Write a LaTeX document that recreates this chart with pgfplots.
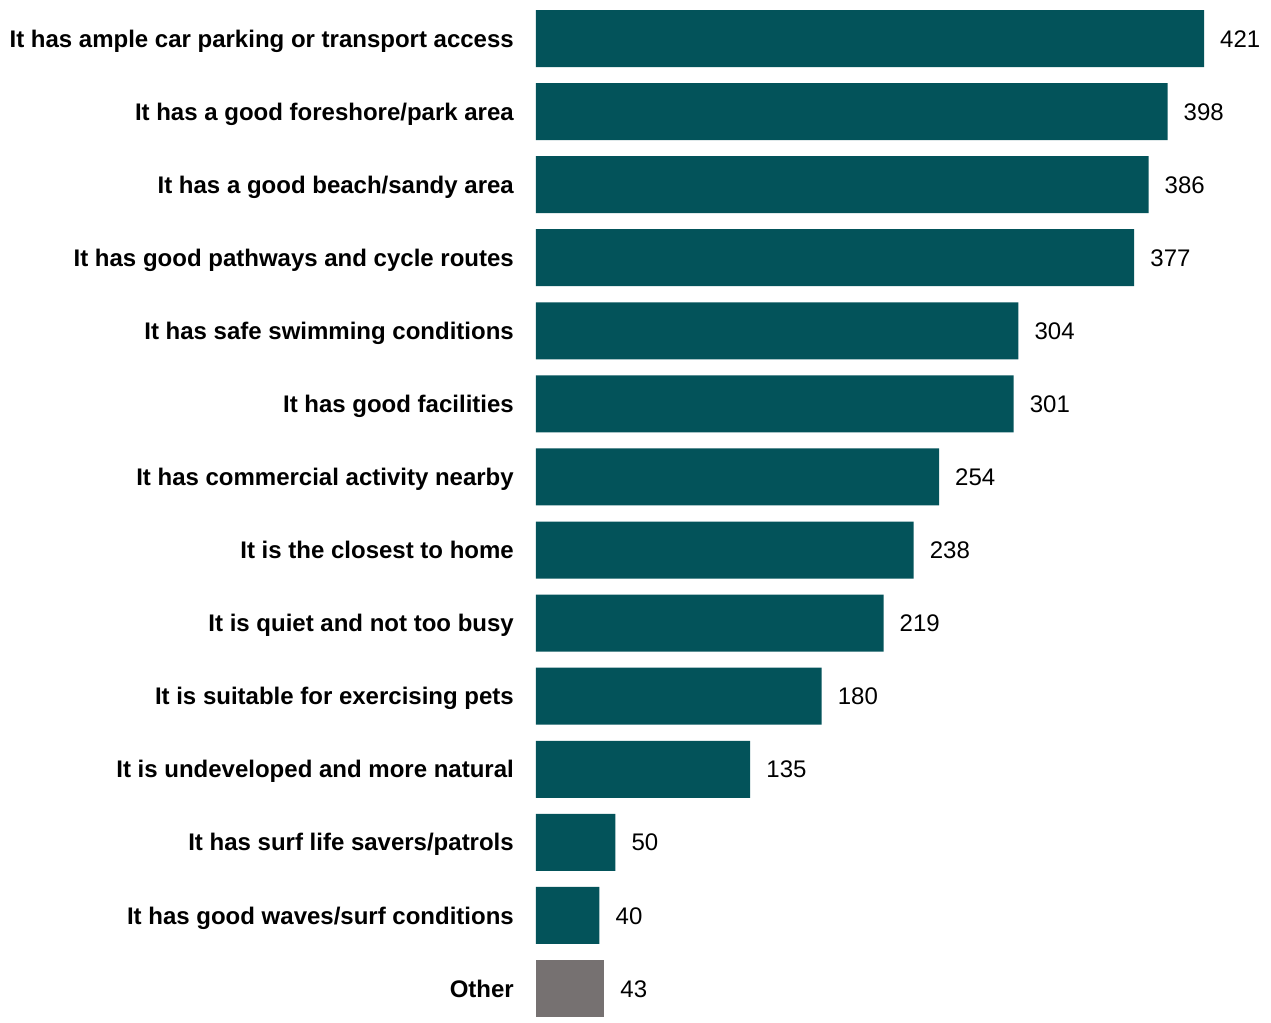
\documentclass[border=0pt]{standalone}
\usepackage{pgfplots}
\pgfplotsset{compat=1.18}
\usepackage{fontspec}
\setmainfont{Liberation Sans}
\definecolor{barteal}{HTML}{03535A}
\definecolor{bargray}{HTML}{767171}
\begin{document}
\begin{tikzpicture}
\begin{axis}[
  scale only axis,
  width=735bp, height=1023bp,
  xbar, bar width=57bp, bar shift=0pt,
  xmin=0, xmax=463.2,
  ymin=-0.527, ymax=13.472,
  y dir=reverse,
  axis lines=left,
  x axis line style={draw=none},
  y axis line style={draw=none},
  xtick=\empty,
  ytick={0,...,13},
  major tick length=0pt,
  yticklabels={
    It has ample car parking or transport access,
    It has a good foreshore/park area,
    It has a good beach/sandy area,
    It has good pathways and cycle routes,
    It has safe swimming conditions,
    It has good facilities,
    It has commercial activity nearby,
    It is the closest to home,
    It is quiet and not too busy,
    It is suitable for exercising pets,
    It is undeveloped and more natural,
    It has surf life savers/patrols,
    It has good waves/surf conditions,
    Other},
  yticklabel style={font=\fontsize{24bp}{28bp}\selectfont\bfseries, anchor=base east, inner sep=0pt, xshift=-22bp, yshift=-8.6bp},
  nodes near coords,
  /pgf/number format/assume math mode=true,
  every node near coord/.append style={font=\fontsize{24bp}{28bp}\selectfont, anchor=base west, inner sep=0pt, xshift=16bp, yshift=-8.6bp, text=black},
  clip=false,
]
\addplot[draw=none, fill=barteal] coordinates {
  (421,0) (398,1) (386,2) (377,3) (304,4) (301,5) (254,6)
  (238,7) (219,8) (180,9) (135,10) (50,11) (40,12)
};
\addplot[draw=none, fill=bargray] coordinates {(43,13)};
\end{axis}
\path ([xshift=-536bp]current axis.south west) rectangle (current axis.north east);
\end{tikzpicture}
\end{document}
